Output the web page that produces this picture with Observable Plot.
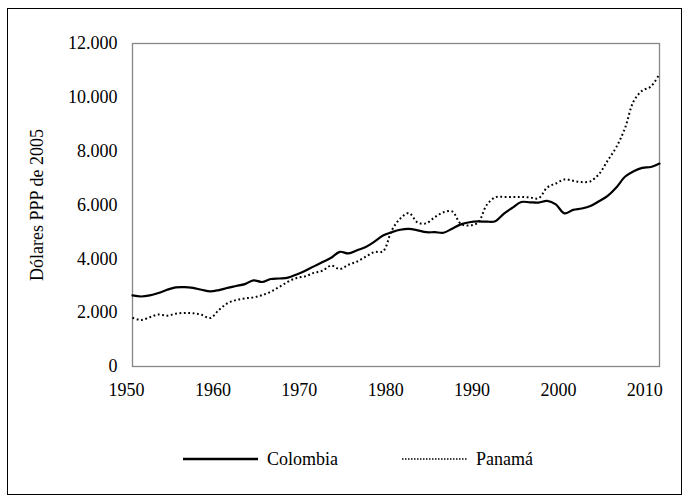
<!DOCTYPE html>
<html>
<head>
<meta charset="utf-8">
<script src="https://cdn.jsdelivr.net/npm/d3@7"></script>
<script src="https://cdn.jsdelivr.net/npm/@observablehq/plot@0.6"></script>
<style>
  html, body { margin: 0; padding: 0; background: #fff; }
  #wrap { position: relative; width: 682px; height: 495px; overflow: hidden; font-family: "Liberation Serif", "Times New Roman", serif; }
  #border { position: absolute; left: 7px; top: 8px; right: 0; bottom: 0; border: 1px solid #000; box-sizing: border-box; pointer-events: none; }
  #chart { position: absolute; left: 0; top: 0; }
  #legend { position: absolute; top: 444px; left: 0; width: 682px; height: 30px; font-size: 18px; }
  .item { position: absolute; top: 0; display: flex; align-items: center; height: 30px; }
  .item svg { margin-right: 8px; }
</style>
</head>
<body>
<div id="wrap">
  <div id="chart"></div>
  <div id="legend"></div>
  <div id="border"></div>
</div>
<script>
const years = [1950,1951,1952,1953,1954,1955,1956,1957,1958,1959,
  1960,1961,1962,1963,1964,1965,1966,1967,1968,1969,
  1970,1971,1972,1973,1974,1975,1976,1977,1978,1979,
  1980,1981,1982,1983,1984,1985,1986,1987,1988,1989,
  1990,1991,1992,1993,1994,1995,1996,1997,1998,1999,
  2000,2001,2002,2003,2004,2005,2006,2007,2008,2009,
  2010,2011];

const colombia = [2640,2600,2640,2730,2850,2940,2950,2920,2850,2790,
  2840,2920,2990,3060,3200,3140,3250,3270,3300,3420,
  3560,3720,3880,4040,4260,4200,4320,4440,4640,4870,
  4990,5080,5110,5060,4990,4990,4970,5120,5280,5360,
  5390,5380,5400,5680,5900,6110,6100,6090,6150,6020,
  5690,5820,5870,5960,6140,6340,6650,7050,7250,7380,
  7410,7540];

const panama = [1810,1730,1830,1930,1890,1960,1990,1980,1920,1800,
  2100,2350,2470,2530,2570,2650,2780,2960,3150,3290,
  3350,3480,3560,3750,3620,3780,3900,4080,4250,4280,
  5050,5500,5700,5350,5320,5550,5730,5760,5300,5240,
  5350,6000,6290,6300,6300,6300,6280,6250,6650,6800,
  6950,6900,6850,6880,7150,7650,8150,8850,9850,10250,
  10400,10870];

const seriesNames = ["Colombia", "Panamá"];
const xTicks = [1950,1960,1970,1980,1990,2000,2010];
const yTicks = [0,2000,4000,6000,8000,10000,12000];
const yLabel = "Dólares PPP de 2005";

const rows = [];
years.forEach((yr, i) => {
  rows.push({year: yr, value: colombia[i], country: seriesNames[0]});
  rows.push({year: yr, value: panama[i], country: seriesNames[1]});
});

const fmt = d => d3.format(",")(d).replace(/,/g, ".");

const chart = Plot.plot({
  width: 682,
  height: 410,
  marginLeft: 132,
  marginRight: 23,
  marginTop: 43,
  marginBottom: 44,
  style: {fontFamily: "'Liberation Serif', 'Times New Roman', serif", fontSize: "18px", color: "#000", background: "transparent", overflow: "visible"},
  x: {domain: [1950, 2011], axis: null},
  y: {domain: [0, 12000], ticks: yTicks, tickFormat: fmt, tickSize: 0, tickPadding: 15, label: yLabel, labelAnchor: "center", labelOffset: 102, labelArrow: false},
  marks: [
    Plot.axisX({ticks: xTicks, tickFormat: d => String(d), tickSize: 0, tickPadding: 17, label: null, dx: -6}),
    Plot.frame({stroke: "#868686", strokeWidth: 1.3}),
    Plot.line(rows.filter(d => d.country === seriesNames[1]), {x: "year", y: "value", stroke: "#000", strokeWidth: 2, strokeDasharray: "1.8,2.6", strokeLinecap: "butt", curve: "catmull-rom"}),
    Plot.line(rows.filter(d => d.country === seriesNames[0]), {x: "year", y: "value", stroke: "#000", strokeWidth: 2.2, curve: "catmull-rom"})
  ]
});
document.getElementById("chart").appendChild(chart);

// Legend
const legend = document.getElementById("legend");
const items = [
  {name: seriesNames[0], left: 183, dash: null, width: 2.5, len: 75},
  {name: seriesNames[1], left: 402, dash: "1.5,1.5", width: 1.5, len: 65}
];
items.forEach(it => {
  const div = document.createElement("div");
  div.className = "item";
  div.style.left = it.left + "px";
  const svg = d3.create("svg").attr("width", it.len + 1).attr("height", 20);
  svg.append("line").attr("x1", 0).attr("x2", it.len)
    .attr("y1", 10).attr("y2", 10).attr("stroke", "#000").attr("stroke-width", it.width)
    .attr("stroke-dasharray", it.dash);
  div.appendChild(svg.node());
  const span = document.createElement("span");
  span.textContent = it.name;
  div.appendChild(span);
  legend.appendChild(div);
});
</script>
</body>
</html>
